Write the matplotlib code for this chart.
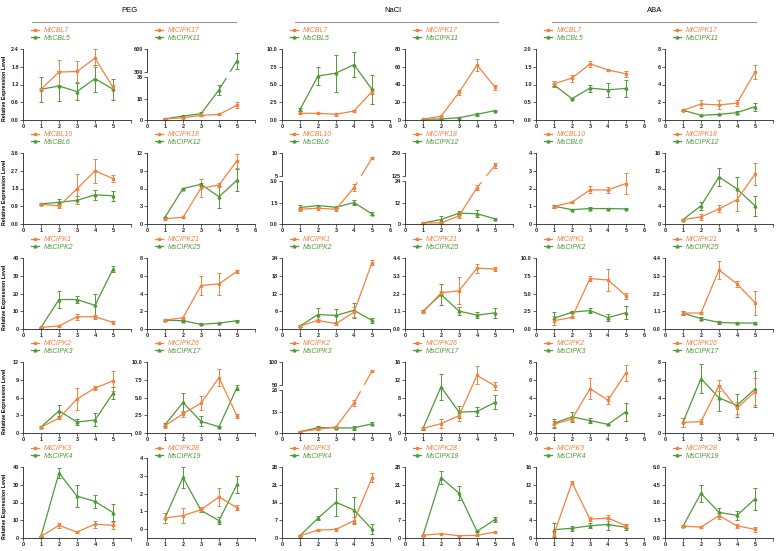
import numpy as np
import matplotlib
matplotlib.use('Agg')
import matplotlib.pyplot as plt
from matplotlib.lines import Line2D

plt.rcParams['font.family'] = ['Liberation Sans', 'DejaVu Sans']

# Conditions (column groups) and gene pairs (two panels per row)
conditions = ['PEG', 'NaCl', 'ABA']
mt_genes = ['MtCBL7', 'MtCIPK17', 'MtCBL10', 'MtCIPK18', 'MtCIPK1',
            'MtCIPK21', 'MtCIPK2', 'MtCIPK26', 'MtCIPK3', 'MtCIPK28']
ms_genes = ['MsCBL5', 'MsCIPK11', 'MsCBL6', 'MsCIPK12', 'MsCIPK2',
            'MsCIPK25', 'MsCIPK3', 'MsCIPK17', 'MsCIPK4', 'MsCIPK19']
days = [1, 2, 3, 4, 5]

# PEG
peg_mt = [[1.04, 1.62, 1.64, 2.09, 1.10], [0.9, 1.9, 3.9, 4.7, 12.5],
          [1.0, 0.92, 1.78, 2.7, 2.3], [0.9, 1.13, 6.05, 6.6, 10.7],
          [0.93, 1.7, 6.9, 6.9, 3.7], [1.0, 1.27, 4.9, 5.08, 6.5],
          [1.0, 2.5, 5.75, 7.6, 8.8], [1.02, 2.7, 4.2, 7.8, 2.4],
          [0.93, 7.1, 3.35, 7.8, 7.1], [0.63, 0.76, 1.09, 1.81, 1.2]]
peg_mt_err = [[0.05, 0.42, 0.35, 0.3, 0.1], [0.3, 0.5, 0.6, 0.5, 2.5],
              [0.05, 0.1, 0.75, 0.6, 0.18], [0.2, 0.1, 1.5, 0.4, 1.2],
              [0.3, 0.3, 1.8, 1.0, 0.8], [0.1, 0.1, 1.1, 1.2, 0.2],
              [0.1, 0.2, 1.9, 0.4, 1.7], [0.35, 0.4, 1.0, 1.2, 0.3],
              [0.3, 1.6, 0.5, 2.0, 2.0], [0.3, 0.4, 0.15, 0.5, 0.15]]
peg_ms = [[1.04, 1.15, 0.96, 1.40, 1.04], [1.0, 3.3, 5.3, 25.5, 450],
          [1.02, 1.1, 1.2, 1.48, 1.43], [1.13, 6.0, 6.7, 4.6, 7.4],
          [0.93, 16.6, 16.6, 13.3, 33.8], [1.0, 0.93, 0.52, 0.67, 0.93],
          [1.0, 3.75, 1.85, 2.2, 6.7], [1.16, 4.3, 1.63, 0.88, 6.4],
          [0.93, 36.7, 23.6, 20.6, 14.3], [0.63, 2.91, 1.05, 0.48, 2.51]]
peg_ms_err = [[0.42, 0.5, 0.3, 0.45, 0.35], [0.3, 0.8, 1.5, 4, 100],
              [0.05, 0.15, 0.2, 0.25, 0.25], [0.1, 0.15, 0.2, 1.9, 1.9],
              [0.3, 5, 1.8, 6.5, 1.5], [0.05, 0.05, 0.1, 0.05, 0.05],
              [0.1, 0.9, 0.5, 1.1, 1.0], [0.2, 1.4, 0.7, 0.1, 0.3],
              [0.3, 3, 6, 3.5, 4.8], [0.3, 0.6, 0.1, 0.2, 0.5]]

# NaCl
nacl_mt = [[0.94, 0.94, 0.8, 1.27, 4.0], [1.0, 4.2, 31, 62, 37],
           [1.04, 1.11, 1.04, 2.57, 8.9], [0.6, 0.6, 4.6, 20.5, 184],
           [1.0, 2.9, 1.8, 5.7, 22.4], [1.05, 2.24, 2.37, 3.77, 3.72],
           [0.8, 2.3, 3.7, 18.4, 80.8], [1.04, 2.1, 3.9, 13, 10.6],
           [0.9, 3.1, 3.4, 6.8, 23.7], [1.05, 1.7, 0.9, 1.05, 2.35]]
nacl_mt_err = [[0.1, 0.1, 0.25, 0.1, 0.3], [0.3, 0.5, 3, 7, 3],
               [0.12, 0.1, 0.1, 0.25, 0.15], [0.3, 0.3, 1, 1.5, 15],
               [0.2, 0.5, 0.3, 1.7, 0.8], [0.08, 0.1, 0.85, 0.28, 0.15],
               [0.2, 0.3, 0.5, 2, 2], [0.3, 1, 1.2, 2, 0.8],
               [0.2, 0.3, 0.6, 1.3, 1.8], [0.1, 0.2, 0.1, 0.1, 0.2]]
nacl_ms = [[1.46, 6.2, 6.6, 7.8, 4.3], [0.8, 1.1, 2.6, 6.4, 10.6],
           [1.16, 1.3, 1.18, 1.51, 0.71], [0.6, 2.5, 6.1, 5.8, 2.9],
           [1.0, 4.9, 4.6, 6.3, 2.9], [1.1, 2.14, 1.11, 0.86, 1.0],
           [0.8, 3.3, 3.1, 3.1, 5.6], [1.04, 10.4, 4.7, 4.85, 6.9],
           [0.9, 7.85, 14.1, 11, 3.5], [1.05, 23.8, 17.7, 2.6, 7.3]]
nacl_ms_err = [[0.25, 1.2, 2.6, 1.8, 2.1], [0.2, 0.3, 0.5, 2, 1],
               [0.2, 0.07, 0.05, 0.15, 0.1], [0.3, 1.8, 1.3, 2, 0.6],
               [0.2, 2.2, 2.3, 2.5, 0.9], [0.05, 0.65, 0.25, 0.17, 0.3],
               [0.2, 1, 0.4, 1, 1], [0.3, 3, 1.3, 1.1, 1.6],
               [0.2, 0.8, 5.5, 5.2, 2], [0.1, 2.5, 2.8, 0.3, 1]]

# ABA
aba_mt = [[1.02, 1.18, 1.58, 1.41, 1.30], [1.1, 1.8, 1.7, 1.9, 5.4],
          [0.98, 1.23, 1.92, 1.92, 2.28], [1.0, 1.6, 3.4, 5.5, 11.2],
          [1.17, 1.64, 7.1, 6.9, 4.67], [0.99, 0.99, 3.66, 2.8, 1.63],
          [1.0, 1.56, 5.0, 3.7, 6.77], [1.2, 1.28, 5.34, 2.8, 4.66],
          [0.9, 12.5, 4.25, 4.5, 2.76], [1.0, 0.92, 1.89, 1.03, 0.73]]
aba_mt_err = [[0.08, 0.1, 0.08, 0.04, 0.08], [0.1, 0.4, 0.5, 0.3, 0.75],
              [0.07, 0.05, 0.2, 0.17, 0.6], [0.1, 0.6, 0.8, 2.6, 2.5],
              [0.6, 0.1, 0.3, 1.6, 0.45], [0.15, 0.08, 0.55, 0.2, 0.75],
              [0.3, 0.25, 1.15, 0.45, 0.9], [0.5, 0.3, 0.6, 0.7, 1.5],
              [0.5, 0.3, 0.5, 0.6, 0.5], [0.08, 0.1, 0.25, 0.15, 0.2]]
aba_ms = [[0.99, 0.60, 0.90, 0.85, 0.89], [1.1, 0.53, 0.64, 0.83, 1.5],
          [1.0, 0.81, 0.87, 0.87, 0.85], [1.0, 4.1, 10.6, 7.9, 4.1],
          [1.5, 2.37, 2.6, 1.6, 2.3], [0.99, 0.64, 0.41, 0.37, 0.37],
          [1.1, 1.82, 1.4, 0.97, 2.4], [1.2, 6.13, 3.95, 3.12, 4.96],
          [1.87, 2.2, 2.76, 3.06, 2.4], [1.0, 3.78, 2.16, 1.92, 3.3]]
aba_ms_err = [[0.03, 0.02, 0.1, 0.2, 0.24], [0.05, 0.05, 0.05, 0.2, 0.45],
              [0.08, 0.03, 0.07, 0.03, 0.03], [0.1, 0.9, 2, 2.7, 2.2],
              [0.9, 0.1, 0.3, 0.5, 0.9], [0.15, 0.08, 0.08, 0.06, 0.04],
              [0.5, 0.6, 0.3, 0.05, 1.0], [0.5, 1.6, 1.5, 1.3, 2.0],
              [1.6, 0.6, 0.6, 1.2, 0.7], [0.08, 0.7, 0.4, 0.4, 0.9]]

data = {'PEG': (peg_mt, peg_mt_err, peg_ms, peg_ms_err),
        'NaCl': (nacl_mt, nacl_mt_err, nacl_ms, nacl_ms_err),
        'ABA': (aba_mt, aba_mt_err, aba_ms, aba_ms_err)}

# y axis ticks per panel, and number of decimals on the labels
y_ticks = {
    'PEG': [[0, 0.6, 1.2, 1.8, 2.4], [0, 18, 36, 300, 600], [0, 0.9, 1.8, 2.7, 3.6],
            [0, 3, 6, 9, 12], [0, 10, 20, 30, 40], [0, 2, 4, 6, 8], [0, 3, 6, 9, 12],
            [0, 2.5, 5, 7.5, 10], [0, 10, 20, 30, 40], [0, 1, 2, 3, 4]],
    'NaCl': [[0, 2.5, 5, 7.5, 10], [0, 20, 40, 60, 80], [0, 1.5, 3, 5, 10],
             [0, 12, 24, 125, 250], [0, 6, 12, 18, 24], [0, 1.1, 2.2, 3.3, 4.4],
             [0, 13, 26, 50, 100], [0, 4, 8, 12, 16], [0, 7, 14, 21, 28], [0, 7, 14, 21, 28]],
    'ABA': [[0, 0.5, 1, 1.5, 2], [0, 2, 4, 6, 8], [0, 1, 2, 3, 4], [0, 4, 8, 12, 16],
            [0, 2.5, 5, 7.5, 10], [0, 1.1, 2.2, 3.3, 4.4], [0, 2, 4, 6, 8], [0, 2, 4, 6, 8],
            [0, 4, 8, 12, 16], [0, 1.5, 3, 4.5, 6]],
}
y_dec = {'PEG': [1, 0, 1, 0, 0, 0, 0, 1, 0, 0],
         'NaCl': [1, 0, 1, 0, 0, 1, 0, 0, 0, 0],
         'ABA': [1, 0, 0, 0, 1, 1, 0, 0, 0, 1]}
# broken y axes: (lower top, upper bottom, upper top)
breaks = {('PEG', 1): (36, 300, 600), ('NaCl', 2): (3, 5, 10),
          ('NaCl', 3): (24, 125, 250), ('NaCl', 6): (26, 50, 100)}
# panels (row, col) where the last x tick is labelled "6"
show_six = {(0, 2), (0, 4), (1, 1), (1, 2), (1, 4), (2, 4), (3, 2), (3, 4), (4, 3), (4, 4)}

ORANGE = '#F5813F'
GREEN = '#4F9A36'
W, H = 780, 551
col_left = [23, 147, 282, 405, 536, 665]
row_bottom = [120, 224, 329, 433, 538]
ax_w, ax_h = 108, 71


def break_funcs(lo, up0, up1, f1=0.6, f2=0.67):
    xp = np.array([-lo * 100, 0, lo, up0, up1, up1 + (up1 - up0) * 100])
    fp = np.array([-f1 * 100, 0, f1, f2, 1, 1 + (1 - f2) * 100])
    return (lambda v: np.interp(v, xp, fp)), (lambda t: np.interp(t, fp, xp))


fig = plt.figure(figsize=(W / 100, H / 100), dpi=100)

for c, cond in enumerate(conditions):
    mt, mt_e, ms, ms_e = data[cond]
    for p in range(10):
        r, k = divmod(p, 2)
        col = 2 * c + k
        ticks = y_ticks[cond][p]
        h = ax_h
        ymin = 0
        if cond == 'PEG' and p == 9:
            h, ymin = 80, -0.5
        ax = fig.add_axes([col_left[col] / W, 1 - row_bottom[r] / H, ax_w / W, h / H])

        for y, e, color, mk in [(ms[p], ms_e[p], GREEN, '^'), (mt[p], mt_e[p], ORANGE, 's')]:
            ax.errorbar(days, y, yerr=e, color=color, marker=mk, ms=2, lw=0.9,
                        elinewidth=0.7, capsize=1.3, capthick=0.7)

        ax.set_xlim(0, 6)
        ax.set_xticks(range(7))
        ax.set_xticklabels([str(i) for i in range(6)] + ['6' if (r, col) in show_six else ''])

        brk = breaks.get((cond, p))
        if brk:
            lo, up0, up1 = brk
            ax.set_yscale('function', functions=break_funcs(lo, up0, up1))
            ax.set_ylim(0, up1)
            labels = [f'{t:.{y_dec[cond][p]}f}' if t <= lo else f'{t:g}' for t in ticks]
            if cond == 'NaCl' and p == 2:
                labels = ['0.0', '1.5', '3.0', '5', '10']
            ax.axhspan(lo, up0, color='white', zorder=3)
            ax.spines['left'].set_visible(False)
            for seg in [(0, 0.6), (0.67, 1)]:
                ax.plot([0, 0], seg, transform=ax.transAxes, color='#222222', lw=0.6,
                        clip_on=False, zorder=4)
        else:
            ax.set_ylim(ymin, ticks[-1])
            labels = [f'{t:.{y_dec[cond][p]}f}' for t in ticks]
        ax.set_yticks(ticks)
        ax.set_yticklabels(labels)

        for s in ['top', 'right']:
            ax.spines[s].set_visible(False)
        for s in ['left', 'bottom']:
            ax.spines[s].set_linewidth(0.6)
            ax.spines[s].set_color('#222222')
        ax.tick_params(labelsize=4, length=2, width=0.5, pad=1, colors='#222222')
        for lab in ax.get_xticklabels() + ax.get_yticklabels():
            lab.set_fontweight('bold')

        handles = [Line2D([], [], color=ORANGE, marker='s', ms=2, lw=0.9),
                   Line2D([], [], color=GREEN, marker='^', ms=2, lw=0.9)]
        # legend sits at the same height for every panel of a row
        ax.legend(handles, [mt_genes[p], ms_genes[p]], loc='lower left',
                  bbox_to_anchor=(0.04, (ax_h + 4) / h), frameon=False,
                  prop={'size': 5, 'style': 'italic'}, labelcolor='linecolor',
                  handlelength=1.2, handletextpad=0.6, labelspacing=0.05, borderpad=0)

        if col == 0:
            fig.text(5 / W, 1 - (row_bottom[r] - 32) / H, 'Relative Expression Level',
                     rotation=90, ha='center', va='center', fontsize=3.8, fontweight='bold')

# condition headers with underline
header_x = [130, 393, 655]
header_line = [(32, 236), (295, 498), (552, 756)]
for cond, xc, (x0, x1) in zip(conditions, header_x, header_line):
    fig.text(xc / W, 1 - 10 / H, cond, ha='center', va='center', fontsize=5.5)
    fig.add_artist(Line2D([x0 / W, x1 / W], [1 - 22 / H] * 2, color='#999999', lw=0.8))

fig.savefig('out.png', dpi=100)
